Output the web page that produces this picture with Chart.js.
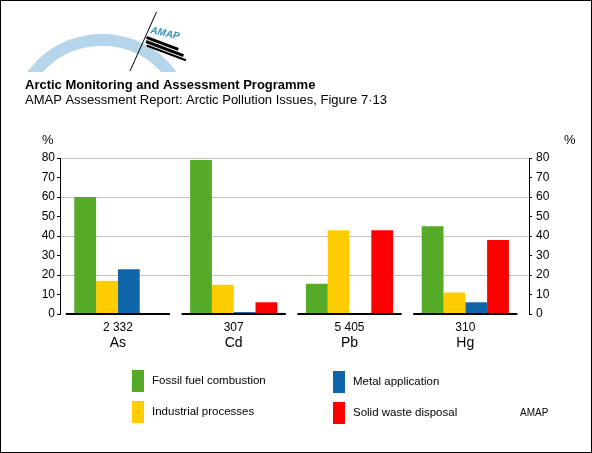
<!DOCTYPE html>
<html>
<head>
<meta charset="utf-8">
<script src="https://cdn.jsdelivr.net/npm/chart.js@4.4.1/dist/chart.umd.min.js"></script>
<style>
  html, body { margin: 0; padding: 0; background: #fff; }
  #wrap { width: 592px; height: 453px; position: relative; }
</style>
</head>
<body>
<div id="wrap"><canvas id="c"></canvas></div>
<script>
const categories = ["As", "Cd", "Pb", "Hg"];
const totals = ["2 332", "307", "5 405", "310"];
const fossilFuel = [60, 79, 15.5, 45];
const industrial = [17, 15, 43, 11];
const metalApp = [23, 1, 0, 6];
const solidWaste = [0, 6, 43, 38];
const seriesLabels = ["Fossil fuel combustion", "Industrial processes", "Metal application", "Solid waste disposal"];
const yTicks = [0, 10, 20, 30, 40, 50, 60, 70, 80];

const FONT = "'Liberation Sans', Arial, Helvetica, sans-serif";
const colors = ["#55ab27", "#ffcc00", "#1064a8", "#ff0000"];

const toXY = arr => arr.map((v, i) => ({ x: i, y: v }));

const decor = {
  id: 'decor',
  beforeDraw(chart) {
    const ctx = chart.ctx;
    ctx.save();
    ctx.fillStyle = '#fff';
    ctx.fillRect(0, 0, chart.width, chart.height);
    // logo arc
    ctx.save();
    ctx.beginPath();
    ctx.rect(0, 0, 300, 72);
    ctx.clip();
    ctx.strokeStyle = '#b5d6ea';
    ctx.lineWidth = 12;
    ctx.beginPath();
    ctx.ellipse(102, 118, 83, 78, 0, 0, Math.PI * 2);
    ctx.stroke();
    ctx.restore();
    // slanted line
    ctx.strokeStyle = '#000';
    ctx.lineWidth = 1;
    ctx.beginPath();
    ctx.moveTo(156.5, 12);
    ctx.lineTo(130, 71);
    ctx.stroke();
    // AMAP logo text
    ctx.save();
    ctx.translate(150, 33);
    ctx.rotate(0.22);
    ctx.fillStyle = '#2f93c6';
    ctx.font = "italic bold 10px " + FONT;
    ctx.textBaseline = 'alphabetic';
    ctx.fillText("AMAP", 0, 0);
    ctx.restore();
    ctx.save();
    ctx.translate(147, 36);
    ctx.rotate(0.36);
    ctx.fillStyle = '#000';
    ctx.fillRect(0, 0, 34, 3);
    ctx.fillRect(1, 4, 40, 3);
    ctx.fillRect(3, 8, 42, 2);
    ctx.restore();
    // titles
    ctx.fillStyle = '#000';
    ctx.textBaseline = 'middle';
    ctx.textAlign = 'left';
    ctx.font = "bold 13px " + FONT;
    ctx.fillText("Arctic Monitoring and Assessment Programme", 25, 85);
    ctx.font = "13px " + FONT;
    ctx.fillText("AMAP Assessment Report: Arctic Pollution Issues, Figure 7\u00b713", 25, 100);
    // % labels
    ctx.font = "13px " + FONT;
    ctx.fillText("%", 42, 140);
    ctx.fillText("%", 564, 140);
    // legend
    const pos = [[132, 370], [132, 401], [333, 371], [333, 402]];
    ctx.font = "11.5px " + FONT;
    chart.data.datasets.forEach((ds, i) => {
      const [lx, ly] = pos[i];
      ctx.fillStyle = ds.backgroundColor;
      ctx.fillRect(lx, ly, 12, 22);
      ctx.fillStyle = '#000';
      ctx.fillText(ds.label, lx + 20, ly + 11);
    });
    ctx.font = "10px " + FONT;
    ctx.fillText("AMAP", 520, 413);
    ctx.restore();
  },
  afterDatasetsDraw(chart) {
    const ctx = chart.ctx;
    const xs = chart.scales.x, ys = chart.scales.y;
    const y0 = ys.getPixelForValue(0);
    ctx.save();
    ctx.strokeStyle = '#000';
    ctx.lineWidth = 2;
    categories.forEach((c, i) => {
      ctx.beginPath();
      ctx.moveTo(xs.getPixelForValue(i - 0.45), y0);
      ctx.lineTo(xs.getPixelForValue(i + 0.45), y0);
      ctx.stroke();
    });
    ctx.restore();
  },
  afterDraw(chart) {
    const ctx = chart.ctx;
    ctx.save();
    ctx.strokeStyle = '#000';
    ctx.lineWidth = 1;
    ctx.strokeRect(0.5, 0.5, chart.width - 1, chart.height - 1);
    ctx.restore();
  }
};

const setTicks = scale => { scale.ticks = categories.map((c, i) => ({ value: i })); };
const setYTicks = scale => { scale.ticks = yTicks.map(v => ({ value: v })); };

new Chart(document.getElementById('c'), {
  type: 'bar',
  data: {
    datasets: [
      { label: seriesLabels[0], data: toXY(fossilFuel), backgroundColor: colors[0] },
      { label: seriesLabels[1], data: toXY(industrial), backgroundColor: colors[1] },
      { label: seriesLabels[2], data: toXY(metalApp), backgroundColor: colors[2] },
      { label: seriesLabels[3], data: toXY(solidWaste), backgroundColor: colors[3] }
    ]
  },
  options: {
    responsive: true,
    maintainAspectRatio: false,
    animation: false,
    devicePixelRatio: 1,
    layout: { padding: { top: 158, left: 0, right: 0, bottom: 100 } },
    datasets: { bar: { categoryPercentage: 0.753, barPercentage: 1.0, borderWidth: 0 } },
    plugins: { legend: { display: false }, tooltip: { enabled: false }, title: { display: false } },
    scales: {
      x: {
        type: 'linear', position: 'bottom', min: -0.5, max: 3.55, weight: 0, offset: false,
        afterBuildTicks: setTicks,
        afterFit: s => { s.height = 21; },
        grid: { display: false, drawTicks: false, tickLength: 0 }, border: { display: false },
        ticks: { padding: 8, color: '#000', font: { family: FONT, size: 12, lineHeight: 1.0 }, callback: (v) => totals[v] }
      },
      x2: {
        type: 'linear', position: 'bottom', min: -0.5, max: 3.55, weight: 1, offset: false,
        afterBuildTicks: setTicks,
        afterFit: s => { s.height = 18; },
        grid: { display: false, drawTicks: false, tickLength: 0 }, border: { display: false },
        ticks: { padding: 1, color: '#000', font: { family: FONT, size: 14, lineHeight: 1.0 }, callback: (v) => categories[v] }
      },
      y: {
        position: 'left', min: 0, max: 80,
        afterBuildTicks: setYTicks,
        afterFit: s => { s.width = 60; },
        border: { display: true, color: '#000', width: 1 },
        grid: {
          color: c => (c.tick && c.tick.value % 20 === 0 && c.tick.value !== 0) ? '#c4c4c4' : 'rgba(0,0,0,0)',
          tickColor: '#000', tickLength: 3, lineWidth: 1
        },
        ticks: { padding: 2, color: '#000', font: { family: FONT, size: 12 } }
      },
      y2: {
        position: 'right', min: 0, max: 80,
        afterBuildTicks: setYTicks,
        afterFit: s => { s.width = 63; },
        border: { display: true, color: '#000', width: 1 },
        grid: { drawOnChartArea: false, tickColor: '#000', tickLength: 3 },
        ticks: { padding: 4, color: '#000', font: { family: FONT, size: 12 } }
      }
    }
  },
  plugins: [decor]
});
</script>
</body>
</html>
